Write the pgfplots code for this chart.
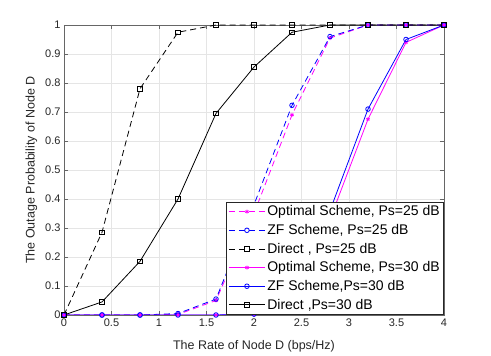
\documentclass[border=0pt]{standalone}
\usepackage{pgfplots}
\pgfplotsset{compat=1.18}
\usepackage{fontspec}
\setmainfont{Liberation Sans}
\definecolor{axgray}{gray}{0.15}
\definecolor{mag}{rgb}{1,0,1}
\begin{document}
\begin{tikzpicture}
\begin{axis}[
  at={(0,0)}, anchor=south west,
  width=380pt, height=290pt, scale only axis,
  xmin=0, xmax=4, ymin=0, ymax=1,
  xtick={0,0.5,...,4}, ytick={0,0.1,...,1},
  xticklabels={0,0.5,1,1.5,2,2.5,3,3.5,4},
  yticklabels={0,0.1,0.2,0.3,0.4,0.5,0.6,0.7,0.8,0.9,1},
  grid=major, major grid style={draw=gray!20, line width=0.5pt},
  axis line style={draw=gray!80!black, line width=0.6pt},
  tick style={draw=gray!80!black, line width=0.5pt},
  tick align=inside, major tick length=4pt,
  ticklabel style={font=\fontsize{11}{13}\selectfont, text=axgray},
  /pgf/number format/assume math mode=true,
  xlabel={The Rate of Node D (bps/Hz)},
  ylabel={The Outage Probability of Node D},
  label style={font=\fontsize{12.5}{14}\selectfont, text=axgray},
  xlabel style={yshift=-7pt},
  ylabel style={yshift=1pt},
  legend style={font=\fontsize{14}{16}\selectfont, draw=axgray, line width=0.6pt,
     inner sep=2pt, row sep=3pt, legend cell align=left, at={(1,0)}, anchor=south east},
  legend image code/.code={
    \draw[mark repeat=2,mark phase=2,#1] plot coordinates {(4pt,0pt) (22pt,0pt) (40pt,0pt)};},
  every axis plot/.append style={line width=0.8pt},
]
\addplot[mag, dash pattern=on 6pt off 4pt, mark=asterisk, mark size=2pt, mark options={solid}]
  coordinates {(0,0) (0.4,0) (0.8,0) (1.2,0.002) (1.6,0.05) (2.0,0.35) (2.4,0.69) (2.8,0.955) (3.2,1) (3.6,1) (4,1)};
\addlegendentry{Optimal Scheme, Ps=25 dB}
\addplot[blue, dash pattern=on 6pt off 4pt, mark=o, mark size=2.3pt, mark options={solid}]
  coordinates {(0,0) (0.4,0) (0.8,0) (1.2,0.005) (1.6,0.055) (2.0,0.38) (2.4,0.723) (2.8,0.96) (3.2,1) (3.6,1) (4,1)};
\addlegendentry{ZF Scheme, Ps=25 dB}
\addplot[black, dash pattern=on 6pt off 4pt, mark=square, mark size=2.2pt, mark options={solid}]
  coordinates {(0,0) (0.4,0.285) (0.8,0.78) (1.2,0.975) (1.6,1) (2.0,1) (2.4,1) (2.8,1) (3.2,1) (3.6,1) (4,1)};
\addlegendentry{Direct , Ps=25 dB}
\addplot[mag, mark=asterisk, mark size=2pt]
  coordinates {(0,0) (0.4,0) (0.8,0) (1.2,0) (1.6,0) (2.0,0.002) (2.4,0.045) (2.8,0.33) (3.2,0.675) (3.6,0.94) (4,1)};
\addlegendentry{Optimal Scheme, Ps=30 dB}
\addplot[blue, mark=o, mark size=2.3pt]
  coordinates {(0,0) (0.4,0) (0.8,0) (1.2,0) (1.6,0) (2.0,0.003) (2.4,0.05) (2.8,0.36) (3.2,0.71) (3.6,0.95) (4,1)};
\addlegendentry{ZF Scheme,Ps=30 dB}
\addplot[black, mark=square, mark size=2.2pt]
  coordinates {(0,0) (0.4,0.045) (0.8,0.185) (1.2,0.4) (1.6,0.695) (2.0,0.855) (2.4,0.975) (2.8,1) (3.2,1) (3.6,1) (4,1)};
\addlegendentry{Direct ,Ps=30 dB}
\end{axis}
\path[use as bounding box] (-64pt,-39pt) rectangle (427pt,315pt);
\end{tikzpicture}
\end{document}
